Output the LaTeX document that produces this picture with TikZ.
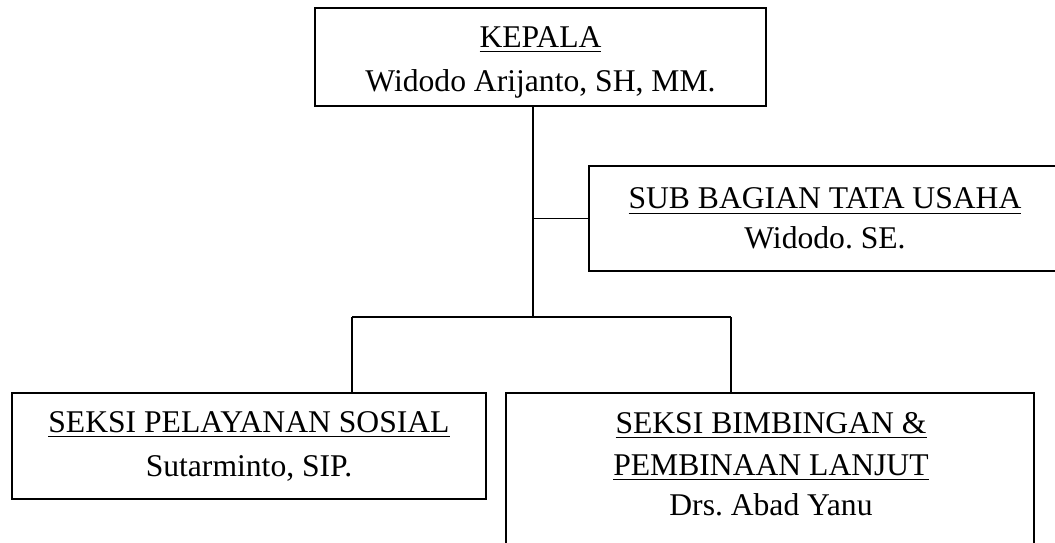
\documentclass[tikz,border=0pt]{standalone}
\usepackage{fontspec}
\setmainfont{Liberation Serif}
\usepackage{tikz}
\usetikzlibrary{positioning, calc}
\frenchspacing

% underline a bit heavier than \underline
\newcommand{\undl}[1]{\setbox0\hbox{#1}\rlap{\rule[-3pt]{\wd0}{0.7pt}}\box0}

\tikzset{
	unitbox/.style={draw, line width=1pt, align=center, inner sep=0pt,
		font=\fontsize{18}{21}\selectfont},
	unittext/.style={align=center, inner sep=0pt, font=\fontsize{18}{21}\selectfont},
	link/.style={line width=1pt}
}

\begin{document}
\begin{tikzpicture}[x=0.02cm, y=-0.02cm]
			\useasboundingbox (0,0) rectangle (1055,542);
			
			% Head
			\node[unitbox, minimum width=9.02cm, minimum height=1.96cm] (kepala) at (540.5,57)
				{\rule{0pt}{18pt}\undl{KEPALA}\\[4.5pt]Widodo Arijanto, SH, MM.};
			
			% Staff office
			\node[unitbox, minimum width=9.44cm, minimum height=2.10cm] (tatausaha) at (825,218.5)
				{\undl{SUB BAGIAN TATA USAHA}\\[2pt]Widodo. SE.};
			
			% Sections
			\node[unitbox, minimum width=9.48cm, minimum height=2.12cm] (pelayanan) at (249,446)
				{\undl{SEKSI PELAYANAN SOSIAL}\\[4pt]Sutarminto, SIP.};
			\node[unitbox, minimum width=10.56cm, minimum height=3.54cm] (bimbingan) at (770,481.5) {};
			\node[unittext] (bimbingantext) at (771,464)
				{\undl{SEKSI BIMBINGAN \&}\\[3pt]\undl{PEMBINAAN LANJUT}\\[2pt]Drs. Abad Yanu};
			
			% Lines
			\coordinate (leftdrop) at (352,317);
			\coordinate (rightdrop) at (731,317);
			\coordinate (trunk) at (533,317);
			\draw[link] (trunk |- kepala.south) -- (trunk);
			\draw[link] (trunk |- tatausaha.west) -- (tatausaha.west);
			\draw[link] (leftdrop) -- (rightdrop);
			\draw[link] (leftdrop) -- (leftdrop |- pelayanan.north);
			\draw[link] (rightdrop) -- (rightdrop |- bimbingan.north);
		\end{tikzpicture}
\end{document}
